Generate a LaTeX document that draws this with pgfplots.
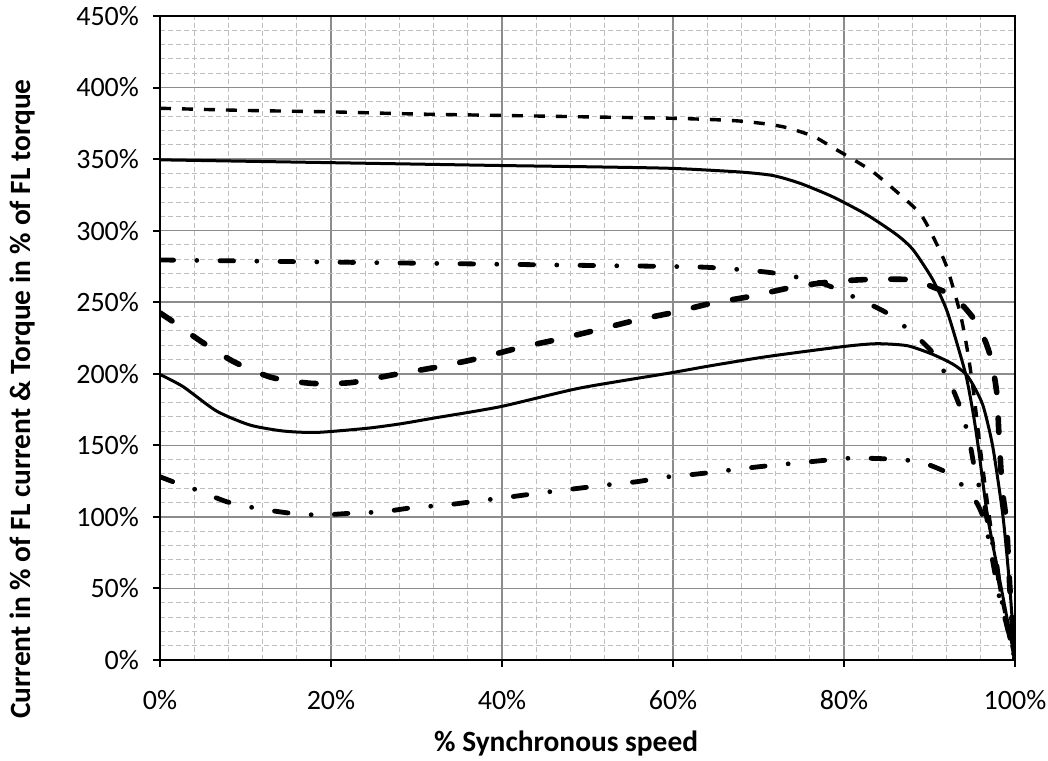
\documentclass[border=0pt]{standalone}
\usepackage{pgfplots}
\pgfplotsset{compat=1.18}
\usepackage{fontspec}
\setmainfont{Carlito}
\definecolor{majgrid}{HTML}{8C8C8C}
\definecolor{mingrid}{HTML}{BEBEBE}

\begin{document}
\begin{tikzpicture}
\begin{axis}[
    name=ax,
    width=427.5pt, height=322pt,
    scale only axis,
    xmin=0, xmax=100, ymin=0, ymax=450,
    xtick={0,20,...,100},
    ytick={0,50,...,450},
    minor x tick num=4,
    minor y tick num=4,
    grid=both,
    major grid style={majgrid, line width=0.75pt},
    minor grid style={mingrid, line width=0.5pt, dash pattern=on 2.5pt off 1.5pt},
    axis line style={black, line width=1.1pt},
    tick align=outside,
    major tick length=3.5pt,
    minor tick length=0pt,
    tick style={black, line width=1pt},
    xtick pos=bottom, ytick pos=left,
    font=\fontsize{14}{16}\selectfont,
    /pgf/number format/assume math mode=true,
    xticklabel={\pgfmathprintnumber{\tick}\%},
    yticklabel={\pgfmathprintnumber{\tick}\%},
    xticklabel style={yshift=-8pt},
    yticklabel style={xshift=-3.5pt},
    xlabel={\bfseries\% Synchronous speed},
    ylabel={\bfseries Current in \% of FL current \& Torque in \% of FL torque},
    xlabel style={at={(axis description cs:0.475,0)}, anchor=north, yshift=-32pt, font=\fontsize{14.7}{16}\selectfont},
    ylabel style={at={(axis description cs:0,0.405)}, anchor=center, inner sep=0pt, yshift=69pt, font=\fontsize{14.7}{16}\selectfont},
    every axis plot/.append style={black, smooth, tension=0.4},
]
% thin dashed
\addplot[line width=1.7pt, dash pattern=on 5.5pt off 5.5pt] coordinates {
(0,385.5) (10,384) (20,383) (30,381.5) (40,380.5) (50,379.5) (60,378.5) (65,377.5) (68,376.5) (71,374.5) (73.3,372) (76.4,366) (78.7,358) (81,350) (83.4,341) (86.2,327) (88.9,312) (90.4,296) (92,275) (93.6,242) (94.5,214) (95.2,185) (96,145) (97,100) (98.2,51) (100,0)};
% thin solid (upper)
\addplot[line width=1.5pt] coordinates {
(0,349.5) (10,348.5) (20,347.5) (30,346.5) (40,345.5) (51.5,344.5) (60,343.5) (67.8,341) (71.7,338.5) (74.9,333) (78.7,323.6) (82.7,311) (86.2,297) (88.1,286.5) (90.4,265.6) (92,244.6) (93.2,221.5) (94.3,198) (95.1,172.6) (95.7,149) (96.8,100) (98.4,50) (100,0)};
% thick dash-dot (upper)
\addplot[line width=2.4pt, line cap=round, dash pattern=on 6.8pt off 11.6pt on 0pt off 11.6pt] coordinates {
(0,279.5) (10,278.8) (26.9,277.5) (40,276.5) (50,275.7) (63.5,274.5) (71,271) (74.9,267) (78,262) (81.9,251.6) (85,242.5) (88.1,228) (90.4,214.5) (92.4,193.6) (93.8,173) (94.7,152) (95.4,130) (96.4,109) (97,89) (97.7,74) (98.4,43) (100,0)};
% thick dashed
\addplot[line width=2.8pt, line cap=round, dash pattern=on 7.2pt off 12.8pt] coordinates {
(0,242.5) (1.75,235.5) (4.7,223) (8.6,208.5) (13,197.5) (17.7,193.3) (22.3,193.8) (27,199) (32.7,205) (37.4,211) (41.9,218) (46.5,224) (51.1,230.6) (55.8,237.6) (60.2,243) (64.3,249) (69,254) (74.1,260.6) (78.7,264.4) (83.4,266) (88.1,265.6) (90.4,260.6) (92.6,255) (94.3,245) (95.7,234) (96.7,220) (97.3,208) (97.9,185) (98.1,160) (98.5,120) (99,96) (99.4,50) (100,0)};
% thin solid (lower)
\addplot[line width=1.5pt] coordinates {
(0,199.5) (2.7,191) (6.6,174) (10.5,164.2) (14.4,160) (18.3,159) (24.2,161.9) (28.1,165) (32,169) (39.8,177) (49.1,190) (59.6,200.5) (64.3,205.5) (71,212) (79.9,219) (83.8,221) (87.4,219.6) (90.4,213.5) (92.8,206.5) (94.3,199.5) (95.3,190) (96.3,177) (97.4,149) (98.6,100) (99.4,50) (100,0)};
% thick dash-dot (lower)
\addplot[line width=2.4pt, line cap=round, dash pattern=on 6.8pt off 11.6pt on 0pt off 11.6pt] coordinates {
(0,128) (2,123.5) (4.3,118.8) (7.8,110.6) (11.3,106) (15.2,102.6) (18.7,101.3) (22.5,102.6) (26.1,103.6) (29.6,106.5) (33.5,108.3) (37.4,111.3) (40.9,113.9) (44.4,116.7) (48.3,119.5) (52.2,122.3) (55.8,124.6) (59.3,127.9) (62.9,130) (70,135) (76,138.5) (80.7,141) (85.1,140.5) (88.9,138.4) (92.2,130.5) (94,121) (95.5,110) (96.5,96) (97.3,72) (98.2,43) (99,25) (100,0)};
\end{axis}
\pgfresetboundingbox
\useasboundingbox ([shift={(-80pt,-50.5pt)}]ax.south west) rectangle ([shift={(16.5pt,8pt)}]ax.north east);
\end{tikzpicture}
\end{document}
